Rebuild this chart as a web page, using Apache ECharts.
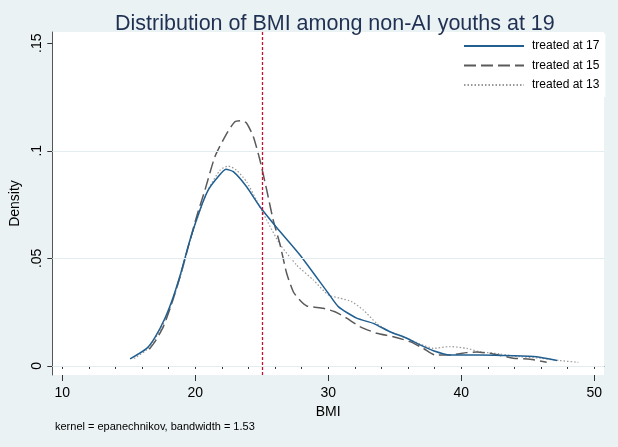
<!DOCTYPE html>
<html>
<head>
<meta charset="utf-8">
<script src="https://cdn.jsdelivr.net/npm/echarts@6/dist/echarts.min.js"></script>
<style>
html,body{margin:0;padding:0;background:#eaf2f3;}
#c{width:618px;height:447px;}
</style>
</head>
<body>
<div id="c"></div>
<script>
// ---- data ----
const seriesNames = ['treated at 17', 'treated at 15', 'treated at 13'];
const bmi17  = [15.1, 16.35, 16.97, 17.72, 18.35, 18.98, 19.6, 20.35, 20.98, 21.73, 22.3, 22.86, 23.86, 24.86, 26.1, 27.87, 30.0, 30.75, 32.13, 33.38, 34.64, 35.9, 36.9, 37.9, 39.15, 41.4, 43.9, 45.67, 47.2];
const dens17 = [0.0033, 0.0082, 0.0133, 0.0222, 0.0322, 0.0446, 0.0585, 0.0725, 0.0818, 0.0880, 0.0914, 0.0903, 0.0833, 0.0740, 0.0645, 0.0516, 0.0338, 0.0276, 0.0222, 0.0198, 0.0159, 0.0129, 0.0098, 0.0071, 0.0051, 0.0051, 0.0048, 0.0043, 0.0025];
const bmi15  = [16.54, 16.97, 17.6, 18.23, 18.85, 19.47, 20.1, 20.73, 21.48, 22.36, 22.98, 23.49, 23.86, 24.36, 24.86, 25.37, 25.86, 26.37, 26.87, 27.37, 27.87, 28.38, 29.62, 30.5, 31.38, 32.38, 33.64, 34.89, 36.14, 37.14, 38.02, 39.15, 40.4, 41.16, 42.4, 43.9, 45.17, 46.42];
const dens15 = [0.0078, 0.0113, 0.0183, 0.0290, 0.0415, 0.0554, 0.0694, 0.0818, 0.0973, 0.1080, 0.1135, 0.1140, 0.1128, 0.1066, 0.0957, 0.0818, 0.0678, 0.0565, 0.0431, 0.0345, 0.0305, 0.0279, 0.0268, 0.0252, 0.0222, 0.0183, 0.0152, 0.0136, 0.0113, 0.0082, 0.0051, 0.0051, 0.0062, 0.0065, 0.0056, 0.0036, 0.0031, 0.0017];
const bmi13  = [15.4, 16.35, 16.97, 17.72, 18.35, 18.98, 19.6, 20.35, 20.98, 21.86, 22.48, 23.1, 23.86, 24.6, 25.37, 26.37, 27.62, 28.87, 30.0, 30.88, 31.76, 32.63, 33.64, 34.64, 35.9, 36.9, 37.9, 39.15, 40.4, 41.4, 42.9, 44.4, 45.9, 47.4, 48.8];
const dens13 = [0.0035, 0.0075, 0.0125, 0.0212, 0.0312, 0.0436, 0.0578, 0.0722, 0.0820, 0.0910, 0.0929, 0.0910, 0.0856, 0.0771, 0.0678, 0.0565, 0.0469, 0.0400, 0.0330, 0.0315, 0.0299, 0.0260, 0.0198, 0.0159, 0.0129, 0.0102, 0.0082, 0.0090, 0.0082, 0.0066, 0.0056, 0.0043, 0.0036, 0.0025, 0.0017];
const xMajorTicks = [10, 20, 30, 40, 50];
const xMinorTicks = [10, 12, 14, 16, 18, 20, 22, 24, 26, 28, 30, 32, 34, 36, 38, 40, 42, 44, 46, 48, 50];
const yTicks = [0, 0.05, 0.1, 0.15];
const yGrid = [0, 0.05, 0.1];
const refLineBMI = 25;
const titleText = 'Distribution of BMI among non-AI youths at 19';
const noteText = 'kernel = epanechnikov, bandwidth = 1.53';

function pairs(xs, ys) { return xs.map((x, i) => [x, ys[i]]); }
function fmtY(v) {
  if (Math.abs(v) < 1e-9) return '0';
  return String(+v.toFixed(2)).replace(/^0\./, '.');
}

const FONT = "'Liberation Sans', Arial, sans-serif";
const chart = echarts.init(document.getElementById('c'), null, {renderer: 'canvas'});
const xmin = 9.25, xmax = 50.73, ymin = -0.0042, ymax = 0.1552;

chart.setOption({
  backgroundColor: '#eaf2f3',
  animation: false,
  textStyle: {fontFamily: FONT},
  title: {
    text: titleText, left: 110, top: 8,
    textStyle: {fontFamily: FONT, fontSize: 21.5, fontWeight: 'normal', color: '#1f3052'}
  },
  grid: {left: 52.3, right: 14, top: 32, bottom: 72, show: true, backgroundColor: '#ffffff', borderWidth: 0,
         containLabel: false, outerBoundsMode: 'none'},
  legend: {
    orient: 'vertical', left: 458, top: 34,
    padding: [6, 6, 6, 5],
    backgroundColor: '#ffffff',
    itemWidth: 60, itemHeight: 12, itemGap: 7.5,
    data: seriesNames,
    itemStyle: {opacity: 0, color: 'rgba(0,0,0,0)', borderWidth: 0, borderColor: 'rgba(0,0,0,0)'},
    textStyle: {fontFamily: FONT, fontSize: 12, color: '#000', padding: [0, 0, 0, 3]}
  },
  xAxis: [{
    type: 'value', min: xmin, max: xmax,
    name: 'BMI', nameLocation: 'middle', nameGap: 27,
    nameTextStyle: {fontFamily: FONT, fontSize: 14, color: '#000'},
    axisLine: {show: true, lineStyle: {color: '#555', width: 1}},
    axisTick: {show: true, customValues: xMinorTicks, length: 3, lineStyle: {color: '#333'}},
    axisLabel: {show: true, customValues: xMajorTicks, margin: 11, fontFamily: FONT, fontSize: 14, color: '#000'},
    splitLine: {show: false}
  }, {
    type: 'value', min: xmin, max: xmax, position: 'bottom', offset: 0,
    axisLine: {show: false},
    axisTick: {show: true, customValues: xMajorTicks, length: 6, lineStyle: {color: '#333'}},
    axisLabel: {show: false},
    splitLine: {show: false}
  }],
  yAxis: {
    type: 'value', min: ymin, max: ymax,
    name: 'Density', nameLocation: 'middle', nameGap: 28, nameRotate: 90,
    nameTextStyle: {fontFamily: FONT, fontSize: 14, color: '#000'},
    axisLine: {show: true, lineStyle: {color: '#555', width: 1}},
    axisTick: {show: true, customValues: yTicks, length: 5, lineStyle: {color: '#333'}},
    axisLabel: {show: true, customValues: yTicks, rotate: 90, margin: 8, fontFamily: FONT, fontSize: 14, color: '#000', formatter: fmtY},
    splitLine: {show: false}
  },
  series: [
    {
      name: 'guides', type: 'line', data: [], z: 1, silent: true,
      markLine: {
        silent: true, symbol: 'none', label: {show: false}, animation: false,
        data: yGrid.map(v => ({yAxis: v, lineStyle: {color: '#e3edef', width: 1.2, type: 'solid'}}))
      }
    },
    {
      name: seriesNames[0], type: 'line', data: pairs(bmi17, dens17), z: 4,
      symbol: 'none', smooth: 0.2,
      lineStyle: {color: '#215f91', width: 1.5, type: 'solid'},
      itemStyle: {color: '#215f91'}
    },
    {
      name: seriesNames[1], type: 'line', data: pairs(bmi15, dens15), z: 3,
      symbol: 'none', smooth: 0.2,
      lineStyle: {color: '#5a5a5a', width: 1.5, type: [12, 5]},
      itemStyle: {color: '#5a5a5a'}
    },
    {
      name: seriesNames[2], type: 'line', data: pairs(bmi13, dens13), z: 2,
      symbol: 'none', smooth: 0.2,
      lineStyle: {color: '#999999', width: 1.2, type: [1.5, 2]},
      itemStyle: {color: '#999999'}
    },
    {
      name: 'ref', type: 'line', data: [], z: 5, silent: true,
      markLine: {
        silent: true, symbol: 'none', label: {show: false}, animation: false,
        data: [{xAxis: refLineBMI, lineStyle: {color: '#c8102e', width: 1.3, type: [3, 2]}}]
      }
    }
  ],
  graphic: [{
    type: 'text', left: 55, top: 421,
    style: {text: noteText, fontFamily: FONT, fontSize: 11, fill: '#000'}
  }]
});
</script>
</body>
</html>
